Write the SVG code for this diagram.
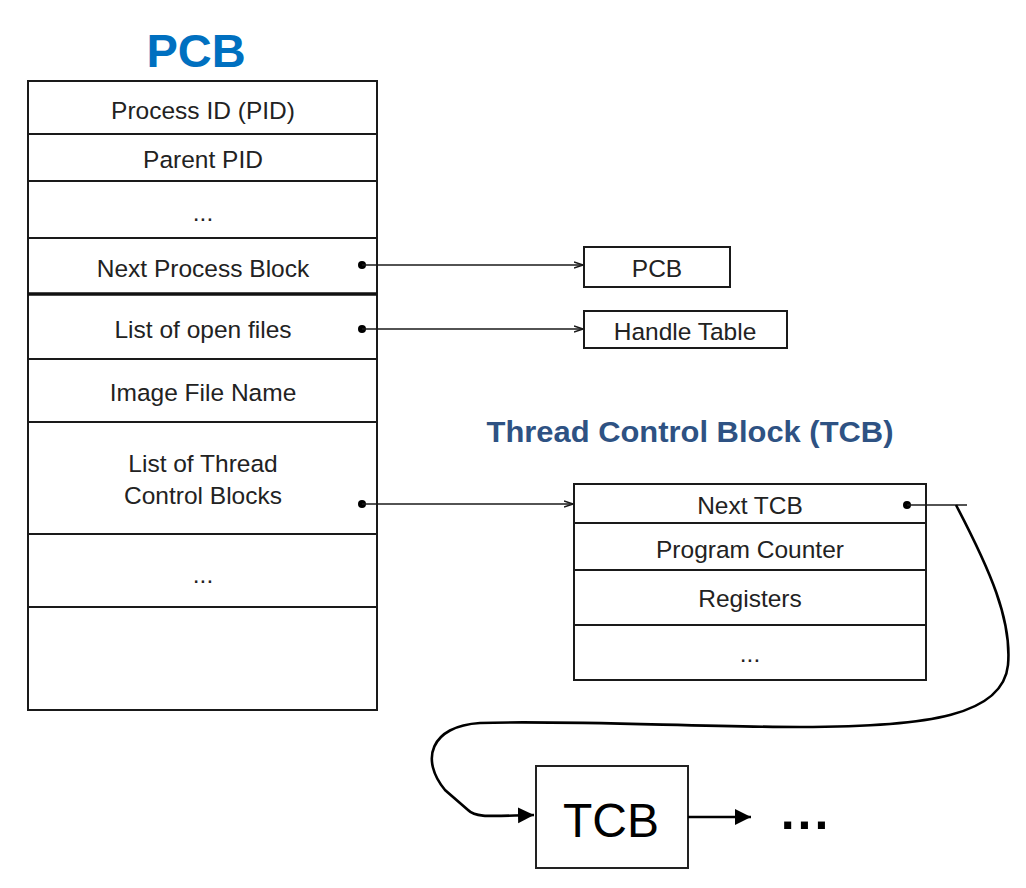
<svg xmlns="http://www.w3.org/2000/svg" width="1026" height="888" viewBox="0 0 1026 888">
<style>
.box{fill:#fff;stroke:#1a1a1a;stroke-width:2}
.sep{stroke:#1a1a1a;stroke-width:2}
.t{font-family:"Liberation Sans",Arial,sans-serif;font-size:24.5px;fill:#222;text-anchor:middle}
.conn{stroke:#1a1a1a;stroke-width:1.6;fill:none}
.big{stroke:#000;stroke-width:2.6;fill:none}
</style>
<defs>
<marker id="sa" markerWidth="10" markerHeight="8" refX="9" refY="4" orient="auto" markerUnits="userSpaceOnUse">
<path d="M0,1 L9,4 L0,7" fill="none" stroke="#1a1a1a" stroke-width="1.4"/>
</marker>
<marker id="ba" markerWidth="18" markerHeight="18" refX="16" refY="9" orient="auto" markerUnits="userSpaceOnUse">
<path d="M0,1 L16,9 L0,17 Z" fill="#000"/>
</marker>
</defs>
<text x="196" y="67" font-family="Liberation Sans,Arial,sans-serif" font-weight="bold" font-size="47" fill="#0070C0" text-anchor="middle">PCB</text>
<g id="pcb">
<rect class="box" x="28" y="81" width="349" height="629"/>
<line class="sep" x1="28" y1="134" x2="377" y2="134"/>
<line class="sep" x1="28" y1="181" x2="377" y2="181"/>
<line class="sep" x1="28" y1="238" x2="377" y2="238"/>
<line x1="28" y1="294" x2="377" y2="294" stroke="#111" stroke-width="3.5"/>
<line class="sep" x1="28" y1="359" x2="377" y2="359"/>
<line class="sep" x1="28" y1="422" x2="377" y2="422"/>
<line class="sep" x1="28" y1="534" x2="377" y2="534"/>
<line class="sep" x1="28" y1="607" x2="377" y2="607"/>
<text class="t" x="203" y="119">Process ID (PID)</text>
<text class="t" x="203" y="168">Parent PID</text>
<text class="t" x="203" y="221" font-size="16">...</text>
<text class="t" x="203" y="277">Next Process Block</text>
<text class="t" x="203" y="338">List of open files</text>
<text class="t" x="203" y="401">Image File Name</text>
<text class="t" x="203" y="472">List of Thread</text>
<text class="t" x="203" y="504">Control Blocks</text>
<text class="t" x="203" y="583" font-size="16">...</text>
</g>
<g id="pcb2">
<rect class="box" x="584" y="247" width="146" height="40"/>
<text class="t" x="657" y="277">PCB</text>
</g>
<g id="handle">
<rect class="box" x="584" y="311" width="203" height="37"/>
<text class="t" x="685" y="340">Handle Table</text>
</g>
<text x="690" y="442" font-family="Liberation Sans,Arial,sans-serif" font-weight="bold" font-size="29" fill="#2E5283" text-anchor="middle" textLength="407" lengthAdjust="spacingAndGlyphs">Thread Control Block (TCB)</text>
<g id="tcb">
<rect class="box" x="574" y="484" width="352" height="196"/>
<line class="sep" x1="574" y1="523" x2="926" y2="523"/>
<line class="sep" x1="574" y1="570" x2="926" y2="570"/>
<line class="sep" x1="574" y1="625" x2="926" y2="625"/>
<text class="t" x="750" y="514">Next TCB</text>
<text class="t" x="750" y="558">Program Counter</text>
<text class="t" x="750" y="607">Registers</text>
<text class="t" x="750" y="662" font-size="16">...</text>
</g>
<g id="tcb2">
<rect x="536" y="766" width="152" height="102" fill="#fff" stroke="#222" stroke-width="2"/>
<text x="611" y="837" font-family="Liberation Sans,Arial,sans-serif" font-size="48" fill="#000" text-anchor="middle">TCB</text>
</g>
<g id="more">
<text x="806" y="829" font-family="Liberation Sans,Arial,sans-serif" font-size="50" font-weight="bold" fill="#000" text-anchor="middle" letter-spacing="3">...</text>
</g>
<g id="connectors">
<circle cx="362" cy="265" r="4" fill="#000"/>
<line class="conn" x1="362" y1="265" x2="583" y2="265" marker-end="url(#sa)"/>
<circle cx="362" cy="329" r="4" fill="#000"/>
<line class="conn" x1="362" y1="329" x2="583" y2="329" marker-end="url(#sa)"/>
<circle cx="362" cy="504" r="4" fill="#000"/>
<line class="conn" x1="362" y1="504" x2="573" y2="504" marker-end="url(#sa)"/>
<circle cx="907" cy="505" r="4" fill="#000"/>
<line class="conn" x1="907" y1="505" x2="967" y2="505"/>
<path class="big" d="M956,505 C990,570 1012,620 1008,665 C1003,715 930,727 800,727 C700,727 560,720 480,723 C430,726 420,760 445,790 L468,810 C476,818 490,816 534,815" marker-end="url(#ba)"/>
<line x1="688" y1="817" x2="751" y2="817" stroke="#000" stroke-width="2.4" marker-end="url(#ba)"/>
</g>
</svg>
